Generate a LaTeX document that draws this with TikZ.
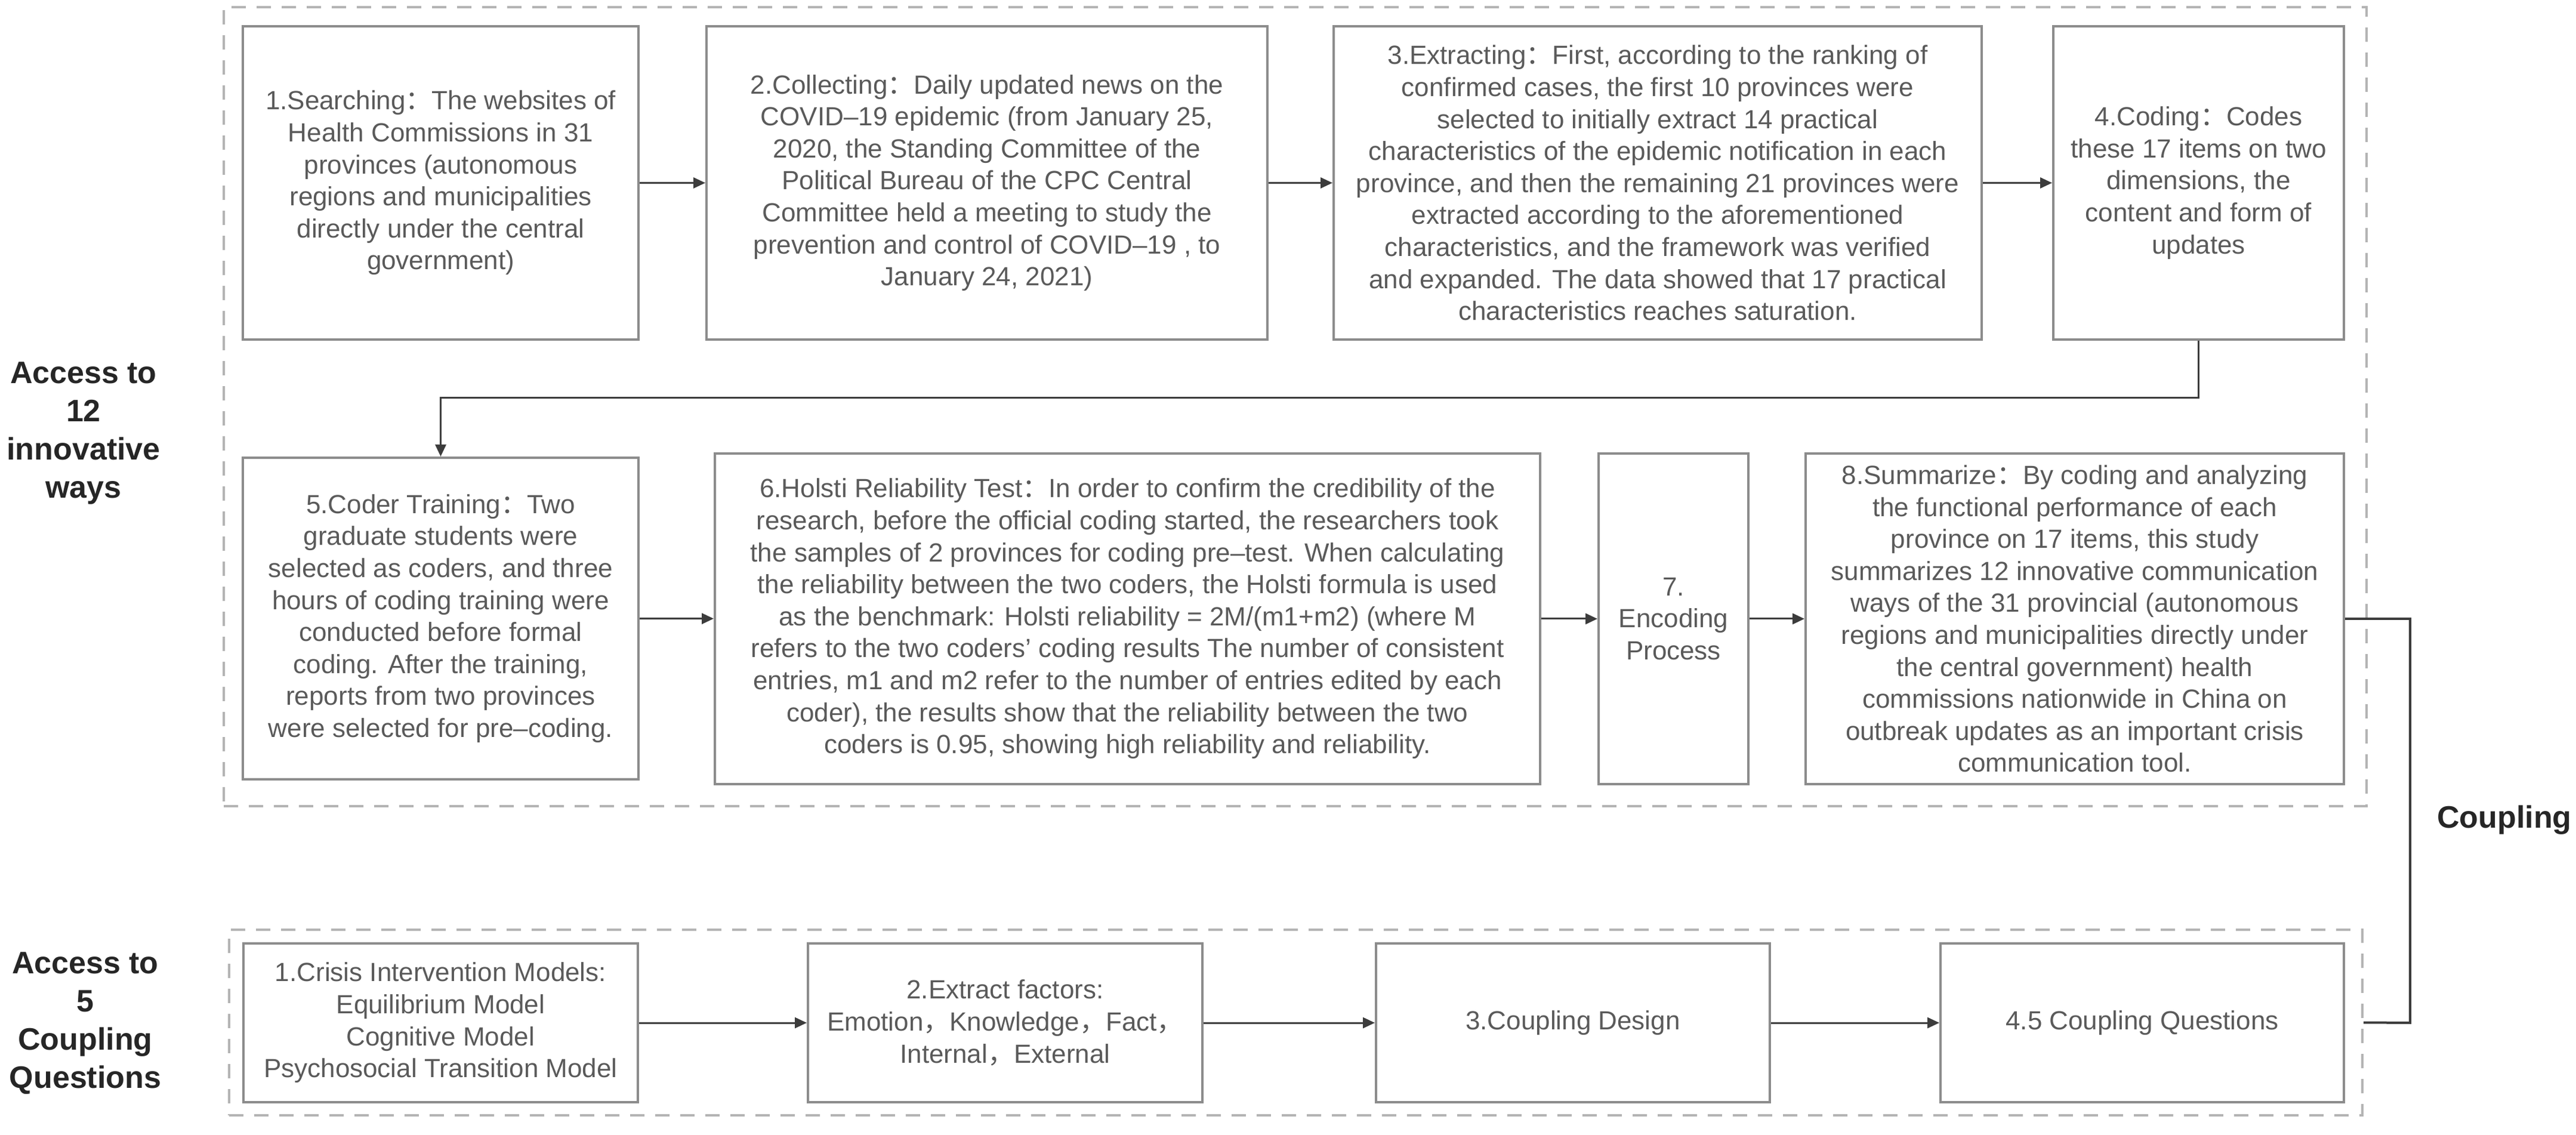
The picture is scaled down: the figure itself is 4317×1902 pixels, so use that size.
\documentclass[tikz,border=0pt]{standalone}
\usepackage{fontspec}
\setmainfont{Liberation Sans}
\newfontfamily\cjk{Noto Sans CJK SC}
\usepackage{tikz}
\usetikzlibrary{arrows.meta}
\newcommand{\zcolon}{{\cjk ：}}
\newcommand{\zcomma}{{\cjk ，}}
\definecolor{boxgray}{HTML}{8C8C8C}
\definecolor{textgray}{HTML}{5A5A5A}
\definecolor{dashgray}{HTML}{B4B4B4}
\definecolor{linegray}{HTML}{3C3C3C}

\begin{document}
\begin{tikzpicture}[x=0.25pt,y=0.25pt,yscale=-1,xscale=1,
	box/.style={draw=boxgray,line width=1pt,align=center,text=textgray,inner sep=2pt,font=\fontsize{11}{13.4}\selectfont},
	grp/.style={draw=dashgray,line width=1pt,dash pattern=on 6pt off 4.5pt,inner sep=0pt},
	lbl/.style={align=center,text=black!85,font=\fontsize{13}{16}\selectfont\bfseries},
	arr/.style={draw=linegray,line width=0.75pt,-{Triangle[length=5pt,width=4.5pt]}},
	cline/.style={draw=linegray,line width=1pt}]
	\useasboundingbox (0,0) rectangle (4317,1902);

	%Dashed groups
	\node [grp,minimum width=897.75pt,minimum height=334.75pt] (top) at (2170.5,681.5) {};
	\node [grp,minimum width=893.75pt,minimum height=77.75pt] (bot) at (2171.5,1713.5) {};

	%Row 1
	\node [box,minimum width=165.75pt,minimum height=131.25pt] (n1) at (738.5,306.5) {1.Searching\zcolon The websites of\\Health Commissions in 31\\provinces (autonomous\\regions and municipalities\\directly under the central\\government)};
	\node [box,minimum width=235pt,minimum height=131.25pt] (n2) at (1654,306.5) {2.Collecting\zcolon Daily updated news on the\\COVID–19 epidemic (from January 25,\\2020, the Standing Committee of the\\Political Bureau of the CPC Central\\Committee held a meeting to study the\\prevention and control of COVID–19 , to\\January 24, 2021)};
	\node [box,minimum width=271.5pt,minimum height=131.25pt] (n3) at (2778,306.5) {3.Extracting\zcolon First, according to the ranking of\\confirmed cases, the first 10 provinces were\\selected to initially extract 14 practical\\characteristics of the epidemic notification in each\\province, and then the remaining 21 provinces were\\extracted according to the aforementioned\\characteristics, and the framework was verified\\and expanded. The data showed that 17 practical\\characteristics reaches saturation.};
	\node [box,minimum width=121.75pt,minimum height=131.25pt] (n4) at (3684.5,306.5) {4.Coding\zcolon Codes\\these 17 items on two\\dimensions, the\\content and form of\\updates};

	%Row 2
	\node [box,minimum width=165.75pt,minimum height=134.75pt] (n5) at (738.5,1036.5) {5.Coder Training\zcolon Two\\graduate students were\\selected as coders, and three\\hours of coding training were\\conducted before formal\\coding. After the training,\\reports from two provinces\\were selected for pre–coding.};
	\node [box,minimum width=345.75pt,minimum height=138.5pt] (n6) at (1889.5,1037) {6.Holsti Reliability Test\zcolon In order to confirm the credibility of the\\research, before the official coding started, the researchers took\\the samples of 2 provinces for coding pre–test. When calculating\\the reliability between the two coders, the Holsti formula is used\\as the benchmark: Holsti reliability = 2M/(m1+m2) (where M\\refers to the two coders' coding results The number of consistent\\entries, m1 and m2 refer to the number of entries edited by each\\coder), the results show that the reliability between the two\\coders is 0.95, showing high reliability and reliability.};
	\node [box,minimum width=62.75pt,minimum height=138.5pt] (n7) at (2804.5,1037) {7.\\Encoding\\Process};
	\node [box,minimum width=225.5pt,minimum height=138.5pt] (n8) at (3477,1037) {8.Summarize\zcolon By coding and analyzing\\the functional performance of each\\province on 17 items, this study\\summarizes 12 innovative communication\\ways of the 31 provincial (autonomous\\regions and municipalities directly under\\the central government) health\\commissions nationwide in China on\\outbreak updates as an important crisis\\communication tool.};

	%Row 3
	\node [box,minimum width=165.25pt,minimum height=66.5pt] (m1) at (738.5,1714) {1.Crisis Intervention Models:\\Equilibrium Model\\Cognitive Model\\Psychosocial Transition Model};
	\node [box,minimum width=165.25pt,minimum height=66.5pt] (m2) at (1684.5,1714) {2.Extract factors:\\Emotion\zcomma Knowledge\zcomma Fact\zcomma\\Internal\zcomma External};
	\node [box,minimum width=165pt,minimum height=66.5pt] (m3) at (2636,1714) {3.Coupling Design};
	\node [box,minimum width=169pt,minimum height=66.5pt] (m4) at (3590,1714) {4.5 Coupling Questions};

	% Text Node
	\node [lbl] (acc12) at (140,726) {Access to\\12\\innovative\\ways};
	% Text Node
	\node [lbl] (acc5) at (143,1715) {Access to\\5\\Coupling\\Questions};
	% Text Node
	\node [lbl] (cpllbl) at (4197,1374) {Coupling};

	%Connectors
	\draw [arr] (n1) -- (n2);
	\draw [arr] (n2) -- (n3);
	\draw [arr] (n3) -- (n4);
	\coordinate (bend) at (738.5,667);
	\draw [arr] (n4.south) |- (bend) -- (n5.north);
	\draw [arr] (n5) -- (n6);
	\draw [arr] (n6) -- (n7);
	\draw [arr] (n7) -- (n8);
	\draw [arr] (m1) -- (m2);
	\draw [arr] (m2) -- (m3);
	\draw [arr] (m3) -- (m4);
	\coordinate (cpl) at (4039,1714);
	\draw [cline] (n8.east) -| (cpl) -- (bot.east);

\end{tikzpicture}
\end{document}
